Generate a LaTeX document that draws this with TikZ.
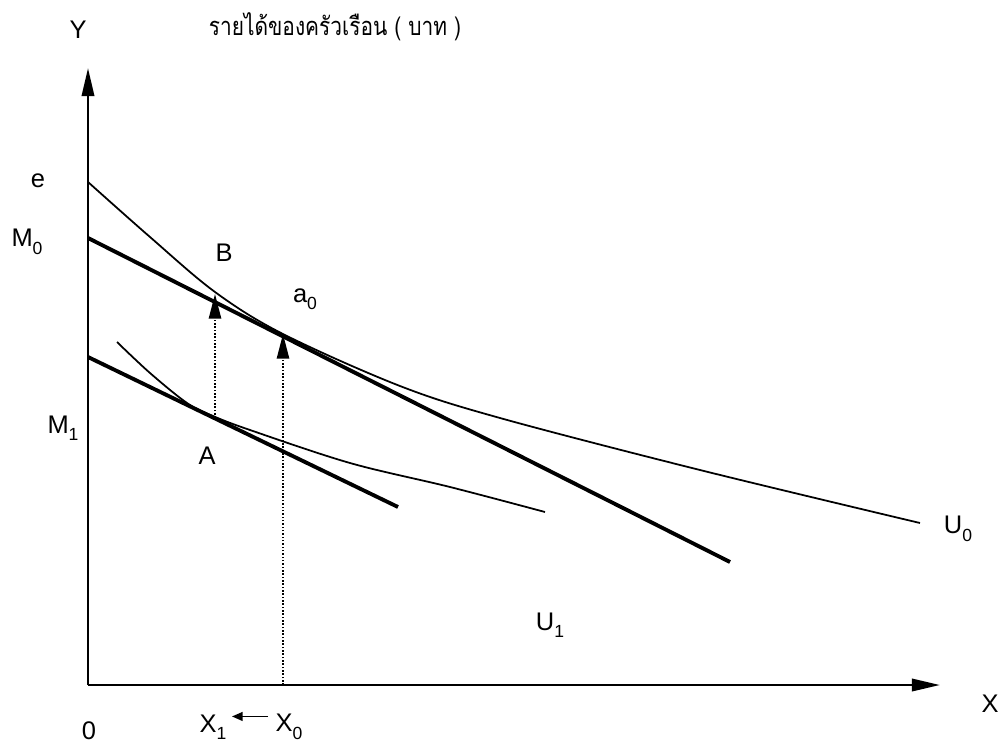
\documentclass[tikz,border=0pt]{standalone}
\usepackage{fontspec}
\setmainfont{Liberation Sans}
\newfontfamily\thaifont[Script=Thai]{Loma}
\usetikzlibrary{arrows.meta}
\newcommand{\lsub}[2]{#1\raisebox{-0.55ex}{\fontsize{10}{11}\selectfont #2}}

\begin{document}
\begin{tikzpicture}[x=0.02cm,y=-0.02cm,>={Triangle[length=16pt,width=7pt]},
  lbl/.style={inner sep=0pt,font=\fontsize{14.5}{17}\selectfont},
  axis/.style={line width=1.5pt,->},
  budget/.style={line width=2.2pt},
  indiff/.style={line width=1pt},
  guide/.style={line width=0.9pt,densely dotted}]
\useasboundingbox (0,0) rectangle (1000,747);

\coordinate (O) at (88,685);
\coordinate (ytop) at (88,68);
\coordinate (xend) at (940,685);
\coordinate (m0) at (88,238);
\coordinate (m0end) at (730,562);
\coordinate (m1) at (88,357);
\coordinate (m1end) at (398,507);
\coordinate (Apt) at (215,418);
\coordinate (Bpt) at (215,294);
\coordinate (x0pt) at (283,685);
\coordinate (a0pt) at (283,334);

\node[lbl] (ylab) at (78,30) {Y};
\node[lbl,xscale=0.82] (title) at (335,27) {\thaifont รายได้ของครัวเรือน ( บาท )};
\node[lbl] (e) at (38,181) {e};
\node[lbl] (M0) at (27,242) {\lsub{M}{0}};
\node[lbl] (M1) at (63,428) {\lsub{M}{1}};
\node[lbl] (B) at (224,253) {B};
\node[lbl] (a0) at (305,299) {\lsub{a}{0}};
\node[lbl] (A) at (207,456) {A};
\node[lbl] (U0) at (958,529) {\lsub{U}{0}};
\node[lbl] (U1) at (550,625) {\lsub{U}{1}};
\node[lbl] (xlab) at (990,704) {X};
\node[lbl] (zero) at (89,731) {0};
\node[lbl] (X1) at (213,727) {\lsub{X}{1}};
\node[lbl] (X0) at (289,727) {\lsub{X}{0}};

\draw[axis] (O) -- (ytop);
\draw[axis] (O) -- (xend);

\draw[budget] (m0) -- (m0end);
\draw[budget] (m1) -- (m1end);

% indifference curves
\draw[indiff] plot[smooth,tension=0.55] coordinates {(88,182) (150,237) (215,292) (283,334) (400,386) (500,418) (700,470) (920,523)};
\draw[indiff] plot[smooth,tension=0.55] coordinates {(117,342) (150,373) (187,403) (213,416) (250,430) (350,463) (450,487) (545,512)};

\draw[guide,->,>={Triangle[length=14pt,width=7pt]}] (Apt) -- (Bpt);
\draw[guide,->,>={Triangle[length=14pt,width=7pt]}] (x0pt) -- (a0pt);

\draw[line width=0.9pt,->,>={Triangle[length=6pt,width=5pt]}] ([xshift=-4pt,yshift=6pt]X0.west) -- ([xshift=3pt,yshift=6pt]X1.east);
\end{tikzpicture}
\end{document}
